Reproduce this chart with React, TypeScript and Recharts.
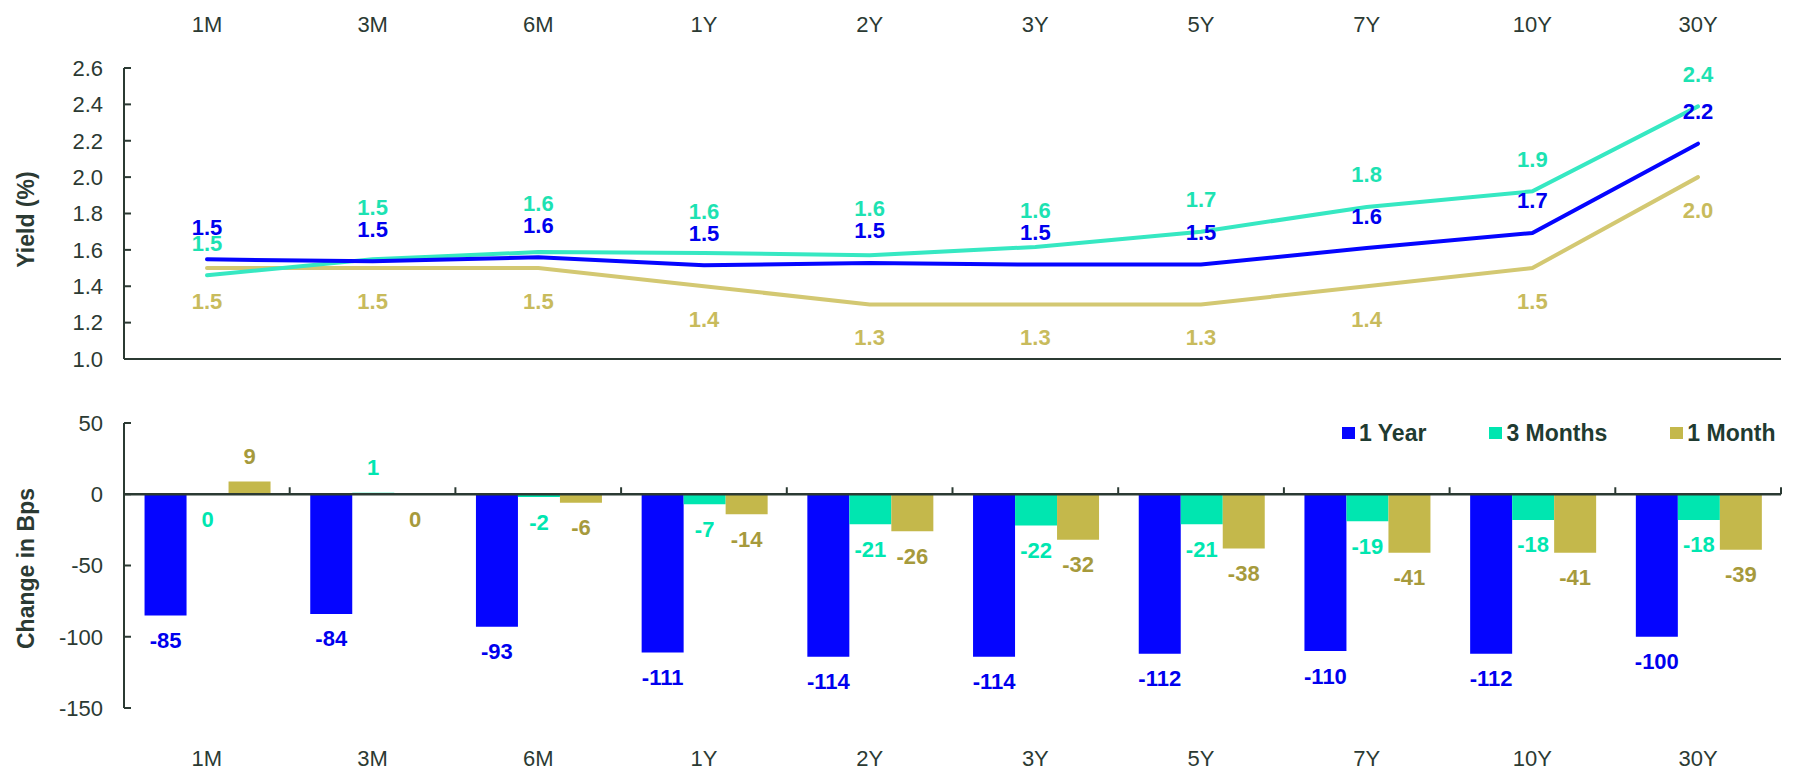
import React from 'react';
import {
  LineChart, Line, BarChart, Bar, XAxis, YAxis, ReferenceLine, LabelList, Legend,
} from 'recharts';

// ---------- data ----------
const categories = ['1M', '3M', '6M', '1Y', '2Y', '3Y', '5Y', '7Y', '10Y', '30Y'];
const seriesNames = ['1 Year', '3 Months', '1 Month'];

// yield levels (%)
const yield1Year = [1.548, 1.537, 1.559, 1.515, 1.528, 1.519, 1.519, 1.61, 1.693, 2.184];
const yield3Months = [1.46, 1.548, 1.588, 1.583, 1.57, 1.616, 1.7, 1.836, 1.922, 2.389];
const yield1Month = [1.5, 1.5, 1.5, 1.4, 1.3, 1.3, 1.3, 1.4, 1.5, 2.0];

// change in bps
const chg1Year = [-85, -84, -93, -111, -114, -114, -112, -110, -112, -100];
const chg3Months = [0, 1, -2, -7, -21, -22, -21, -19, -18, -18];
const chg1Month = [9, 0, -6, -14, -26, -32, -38, -41, -41, -39];

const yieldTicks = [1.0, 1.2, 1.4, 1.6, 1.8, 2.0, 2.2, 2.4, 2.6];
const bpsTicks = [-150, -100, -50, 0, 50];

const lineData = categories.map((cat, i) => ({
  cat, y1: yield1Year[i], m3: yield3Months[i], m1: yield1Month[i],
}));
const barData = categories.map((cat, i) => ({
  cat, y1: chg1Year[i], m3: chg3Months[i], m1: chg1Month[i],
}));

// ---------- style ----------
const FONT = '"Liberation Sans", Arial, sans-serif';
const AXIS = '#2b3a33';
const BLUE = '#0505ff';
const TEAL_LINE = '#36e8c2';
const TEAL_BAR = '#00e6b0';
const GOLD_LINE = '#d3c872';
const GOLD_BAR = '#c4b84b';
const BLUE_LBL = '#0000ee';
const TEAL_LBL = '#1de2b2';
const GOLD_LBL_TOP = '#c8bb5c';
const GOLD_LBL_BAR = '#a69a3c';

const YMIN = 1.0;
const YMAX = 2.6;
const TOP_PLOT_H = 291;

const tickStyle = { fill: AXIS, fontSize: 22, fontFamily: FONT };
const lblBase = { fontSize: 22, fontFamily: FONT, fontWeight: 'bold' as const };

const fmt1 = (v: number) => v.toFixed(1);

function getXY(p: any) {
  const vb = p.viewBox || {};
  const x = p.x ?? vb.x;
  const y = p.y ?? vb.y;
  const w = p.width ?? vb.width ?? 0;
  const h = p.height ?? vb.height ?? 0;
  return { x, y, w, h };
}

const AxisTitle = (props: any) => {
  const { viewBox, value, dy } = props;
  const cy = viewBox.y + viewBox.height / 2 + dy;
  const cx = 26;
  return (
    <text
      x={cx}
      y={cy}
      transform={`rotate(-90, ${cx}, ${cy})`}
      textAnchor="middle"
      dominantBaseline="central"
      fill={AXIS}
      style={{ fontSize: 23, fontFamily: FONT, fontWeight: 'bold' }}
    >
      {value}
    </text>
  );
};

const aboveLabel = (color: string) => (p: any) => {
  const { x, y } = getXY(p);
  return (
    <text x={x} y={y - 32} textAnchor="middle" dominantBaseline="central" fill={color} style={lblBase}>
      {fmt1(p.value)}
    </text>
  );
};

const belowLabel = (color: string) => (p: any) => {
  const { x, y } = getXY(p);
  return (
    <text x={x} y={y + 33} textAnchor="middle" dominantBaseline="central" fill={color} style={lblBase}>
      {fmt1(p.value)}
    </text>
  );
};

// teal labels sit above the line, lifted clear of the blue labels when they would collide
const tealLabel = (p: any) => {
  const { x, y } = getXY(p);
  let idx = p.index;
  if (idx == null) idx = yield3Months.indexOf(p.value);
  const v = yield3Months[idx];
  const b = yield1Year[idx];
  let ly = y - 32;
  if (v >= b) {
    const pxPerUnit = TOP_PLOT_H / (YMAX - YMIN);
    const yBlue = y + (v - b) * pxPerUnit;
    ly = Math.min(ly, yBlue - 32 - 22);
  }
  return (
    <text x={x} y={ly} textAnchor="middle" dominantBaseline="central" fill={TEAL_LBL} style={lblBase}>
      {fmt1(p.value)}
    </text>
  );
};

const barLabel = (color: string) => (p: any) => {
  const { x, y, w, h } = getXY(p);
  const v = Number(p.value);
  const top = Math.min(y, y + h);
  const bottom = Math.max(y, y + h);
  const ly = v > 0 ? top - 25 : bottom + 25;
  return (
    <text x={x + w / 2} y={ly} textAnchor="middle" dominantBaseline="central" fill={color} style={lblBase}>
      {v}
    </text>
  );
};

const ZeroAxis = (props: any) => {
  const { x1, y1, x2, y2 } = props;
  const n = categories.length;
  const marks = [];
  for (let i = 0; i <= n; i++) {
    const x = x1 + ((x2 - x1) * i) / n;
    marks.push(<line key={i} x1={x} y1={y1} x2={x} y2={y1 - 7} stroke={AXIS} strokeWidth={2} />);
  }
  return (
    <g>
      <line x1={x1} y1={y1} x2={x2} y2={y2} stroke={AXIS} strokeWidth={2.6} />
      {marks}
    </g>
  );
};

const LegendContent = (props: any) => {
  const payload = [...(props.payload || [])].sort(
    (a: any, b: any) => seriesNames.indexOf(a.value) - seriesNames.indexOf(b.value),
  );
  return (
    <div
      style={{
        display: 'flex', alignItems: 'center', fontFamily: FONT, fontWeight: 'bold',
        fontSize: 23, color: '#1f3b31', lineHeight: '26px', whiteSpace: 'nowrap',
      }}
    >
      {payload.map((e: any, i: number) => (
        <div
          key={i}
          style={{ display: 'flex', alignItems: 'center', marginRight: i < payload.length - 1 ? 63 : 0 }}
        >
          <span style={{ display: 'inline-block', width: 13, height: 12, background: e.color, marginRight: 4 }} />
          <span>{e.value}</span>
        </div>
      ))}
    </div>
  );
};

export default function App() {
  return (
    <div style={{ position: 'absolute', left: 0, top: 0, width: 1808, height: 770, background: '#fff' }}>
      <div style={{ position: 'absolute', left: 0, top: 0 }}>
        <LineChart width={1808} height={380} data={lineData} margin={{ top: 0, right: 27, bottom: 21, left: 0 }}>
          <XAxis
            dataKey="cat"
            orientation="top"
            height={68}
            axisLine={false}
            tickLine={false}
            tickSize={0}
            tickMargin={36}
            interval={0}
            padding={{ left: 83, right: 83 }}
            tick={tickStyle}
          />
          <YAxis
            type="number"
            width={124}
            domain={[YMIN, YMAX]}
            ticks={yieldTicks}
            allowDataOverflow
            interval={0}
            tickFormatter={(v: number) => v.toFixed(1)}
            axisLine={{ stroke: AXIS, strokeWidth: 2 }}
            tickLine={{ stroke: AXIS, strokeWidth: 2 }}
            tickSize={-7}
            tickMargin={28}
            tick={tickStyle}
            label={<AxisTitle value="Yield (%)" dy={6} />}
          />
          <ReferenceLine y={YMIN} stroke={AXIS} strokeWidth={2} />
          <Line
            dataKey="m1"
            name="1 Month"
            stroke={GOLD_LINE}
            strokeWidth={4}
            strokeLinecap="round"
            dot={false}
            activeDot={false}
            isAnimationActive={false}
          >
            <LabelList dataKey="m1" content={belowLabel(GOLD_LBL_TOP)} />
          </Line>
          <Line
            dataKey="m3"
            name="3 Months"
            stroke={TEAL_LINE}
            strokeWidth={4}
            strokeLinecap="round"
            dot={false}
            activeDot={false}
            isAnimationActive={false}
          >
            <LabelList dataKey="m3" content={tealLabel} />
          </Line>
          <Line
            dataKey="y1"
            name="1 Year"
            stroke={BLUE}
            strokeWidth={4}
            strokeLinecap="round"
            dot={false}
            activeDot={false}
            isAnimationActive={false}
          >
            <LabelList dataKey="y1" content={aboveLabel(BLUE_LBL)} />
          </Line>
        </LineChart>
      </div>
      <div style={{ position: 'absolute', left: 0, top: 380 }}>
        <BarChart
          width={1808}
          height={390}
          data={barData}
          margin={{ top: 43, right: 27, bottom: 0, left: 0 }}
          barCategoryGap="12.4%"
          barGap={0}
        >
          <XAxis
            dataKey="cat"
            height={62}
            axisLine={false}
            tickLine={false}
            tickSize={0}
            tickMargin={42}
            interval={0}
            tick={tickStyle}
          />
          <YAxis
            type="number"
            width={124}
            domain={[-150, 50]}
            ticks={bpsTicks}
            allowDataOverflow
            interval={0}
            axisLine={{ stroke: AXIS, strokeWidth: 2 }}
            tickLine={{ stroke: AXIS, strokeWidth: 2 }}
            tickSize={-7}
            tickMargin={28}
            tick={tickStyle}
            label={<AxisTitle value="Change in Bps" dy={3} />}
          />
          <Legend
            verticalAlign="middle"
            align="center"
            layout="horizontal"
            itemSorter={null as any}
            wrapperStyle={{ top: 40, left: 1342, right: 'auto', width: 'auto', bottom: 'auto' }}
            content={LegendContent}
          />
          <Bar dataKey="y1" name="1 Year" fill={BLUE} minPointSize={1} isAnimationActive={false}>
            <LabelList dataKey="y1" content={barLabel(BLUE_LBL)} />
          </Bar>
          <Bar dataKey="m3" name="3 Months" fill={TEAL_BAR} minPointSize={1} isAnimationActive={false}>
            <LabelList dataKey="m3" content={barLabel(TEAL_BAR)} />
          </Bar>
          <Bar dataKey="m1" name="1 Month" fill={GOLD_BAR} minPointSize={1} isAnimationActive={false}>
            <LabelList dataKey="m1" content={barLabel(GOLD_LBL_BAR)} />
          </Bar>
          <ReferenceLine y={0} shape={ZeroAxis} />
        </BarChart>
      </div>
    </div>
  );
}
